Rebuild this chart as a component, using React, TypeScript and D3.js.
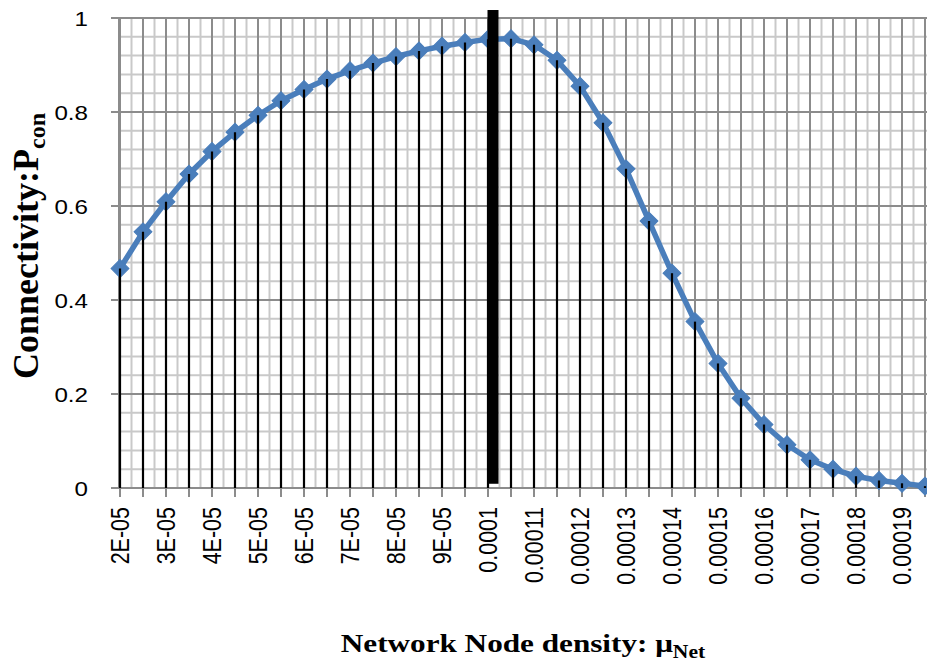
import React from 'react';
import * as d3 from 'd3';

// Category axis values (network node density)
const categories = [
  0.00002, 0.000025, 0.00003, 0.000035, 0.00004, 0.000045, 0.00005, 0.000055,
  0.00006, 0.000065, 0.00007, 0.000075, 0.00008, 0.000085, 0.00009, 0.000095,
  0.0001, 0.000105, 0.00011, 0.000115, 0.00012, 0.000125, 0.00013, 0.000135,
  0.00014, 0.000145, 0.00015, 0.000155, 0.00016, 0.000165, 0.00017, 0.000175,
  0.00018, 0.000185, 0.00019, 0.000195, 0.0002,
];

// Connectivity P_con per category
const connectivity = [
  0.467, 0.545, 0.609, 0.668, 0.716, 0.757, 0.793, 0.824,
  0.848, 0.870, 0.888, 0.904, 0.918, 0.930, 0.940, 0.948,
  0.955, 0.956, 0.943, 0.910, 0.855, 0.777, 0.679, 0.568,
  0.457, 0.354, 0.265, 0.191, 0.135, 0.092, 0.060, 0.040,
  0.025, 0.016, 0.010, 0.004, 0.002,
];

// Labelled categories visible in the picture (every other one)
const xTickValues = [
  0.00002, 0.00003, 0.00004, 0.00005, 0.00006, 0.00007, 0.00008, 0.00009, 0.0001,
  0.00011, 0.00012, 0.00013, 0.00014, 0.00015, 0.00016, 0.00017, 0.00018, 0.00019,
];
const xTickLabels = [
  '2E-05', '3E-05', '4E-05', '5E-05', '6E-05', '7E-05', '8E-05', '9E-05', '0.0001',
  '0.00011', '0.00012', '0.00013', '0.00014', '0.00015', '0.00016', '0.00017', '0.00018', '0.00019',
];

const yTicks = [0, 0.2, 0.4, 0.6, 0.8, 1];
const yTickLabels = ['0', '0.2', '0.4', '0.6', '0.8', '1'];
const yMinorTicks = [0.04, 0.08, 0.12, 0.16, 0.24, 0.28, 0.32, 0.36, 0.44, 0.48, 0.52, 0.56, 0.64, 0.68, 0.72, 0.76, 0.84, 0.88, 0.92, 0.96];

// Highlighted threshold marker (thick black bar)
const thresholdCategory = 0.0001;
const thresholdRange = [0.009, 1.017];

export default function App() {
  const W = 927;
  const H = 663;
  const left = 120;
  const right = 948;
  const top = 18;
  const bottom = 488;

  const x = d3.scalePoint<string>().domain(categories.map(String)).range([left, right]);
  const y = d3.scaleLinear().domain([0, 1]).range([bottom, top]);
  const step = x.step();
  const cx = (v: number) => x(String(v)) as number;

  const linePath = d3
    .line<number>()
    .x((_, i) => cx(categories[i]))
    .y((d) => y(d))(connectivity) as string;

  const diamond = d3.symbol().type(d3.symbolSquare).size(160)() as string;

  const majorGrid = '#8c8c8c';
  const minorGrid = '#c9c9c9';
  const blue = '#4a7ebb';

  return (
    <svg
      width={W}
      height={H}
      style={{ position: 'absolute', left: 0, top: 0, background: '#fff' }}
      xmlns="http://www.w3.org/2000/svg"
    >
      <rect x={0} y={0} width={W} height={H} fill="#fff" />
      {/* minor vertical gridlines */}
      {categories.map((c) => (
        <line key={'mv' + c} x1={cx(c) + step / 2} x2={cx(c) + step / 2} y1={top} y2={bottom} stroke={minorGrid} strokeWidth={2} />
      ))}
      {/* minor horizontal gridlines */}
      {yMinorTicks.map((t) => (
        <line key={'mh' + t} x1={left} x2={right} y1={y(t)} y2={y(t)} stroke={minorGrid} strokeWidth={2} />
      ))}
      {/* major vertical gridlines */}
      {categories.map((c) => (
        <line key={'v' + c} x1={cx(c)} x2={cx(c)} y1={top} y2={bottom} stroke={majorGrid} strokeWidth={2} />
      ))}
      {/* major horizontal gridlines */}
      {yTicks.map((t) => (
        <line key={'h' + t} x1={left - 9} x2={right} y1={y(t)} y2={y(t)} stroke={majorGrid} strokeWidth={2} />
      ))}
      {/* y axis */}
      <line x1={left - 1} x2={left - 1} y1={top} y2={bottom} stroke={majorGrid} strokeWidth={2} />
      {/* x axis tick marks */}
      {categories.map((c) => (
        <line key={'xt' + c} x1={cx(c)} x2={cx(c)} y1={bottom} y2={bottom + 9} stroke={majorGrid} strokeWidth={2} />
      ))}
      <line x1={left - 9} x2={right} y1={bottom} y2={bottom} stroke={majorGrid} strokeWidth={2} />

      {/* series line */}
      <path d={linePath} fill="none" stroke={blue} strokeWidth={5.5} strokeLinejoin="round" />
      {connectivity.map((v, i) => (
        <path
          key={'m' + i}
          d={diamond}
          transform={`translate(${cx(categories[i])},${y(v)}) rotate(45)`}
          fill={blue}
          stroke={blue}
          strokeWidth={1}
        />
      ))}

      {/* drop lines */}
      {connectivity.map((v, i) => (
        <line key={'d' + i} x1={cx(categories[i])} x2={cx(categories[i])} y1={y(v)} y2={bottom} stroke="#000" strokeWidth={2.2} />
      ))}

      {/* threshold bar */}
      <rect
        x={cx(thresholdCategory) - 0.5}
        width={11}
        y={y(thresholdRange[1])}
        height={y(thresholdRange[0]) - y(thresholdRange[1])}
        fill="#000"
      />

      {/* y tick labels */}
      {yTicks.map((t, i) => (
        <text
          key={'yl' + t}
          transform={`translate(${88},${y(t)}) scale(1.15,1)`}
          textAnchor="end"
          dy="0.36em"
          fontFamily="'Liberation Sans', Arial, sans-serif"
          fontSize={21}
          fill="#000"
        >
          {yTickLabels[i]}
        </text>
      ))}

      {/* x tick labels */}
      {xTickValues.map((v, i) => (
        <text
          key={'xl' + v}
          transform={`translate(${cx(v)},${507}) scale(1.2,1) rotate(-90)`}
          textAnchor="end"
          dy="0.36em"
          fontFamily="'Liberation Sans', Arial, sans-serif"
          fontSize={21.5}
          fill="#000"
        >
          {xTickLabels[i]}
        </text>
      ))}

      {/* x axis title */}
      <text
        transform={`translate(${523},${652}) scale(1.2,1)`}
        textAnchor="middle"
        fontFamily="'Liberation Serif', 'Times New Roman', serif"
        fontWeight="bold"
        fontSize={26}
        fill="#000"
      >
        Network Node density: μ
        <tspan fontSize={18} dy={6}>Net</tspan>
      </text>

      {/* y axis title */}
      <text
        transform={`translate(${38},${246}) rotate(-90)`}
        textAnchor="middle"
        fontFamily="'Liberation Serif', 'Times New Roman', serif"
        fontWeight="bold"
        fontSize={36}
        fill="#000"
      >
        Connectivity:P
        <tspan fontSize={24} dy={7}>con</tspan>
      </text>
    </svg>
  );
}
